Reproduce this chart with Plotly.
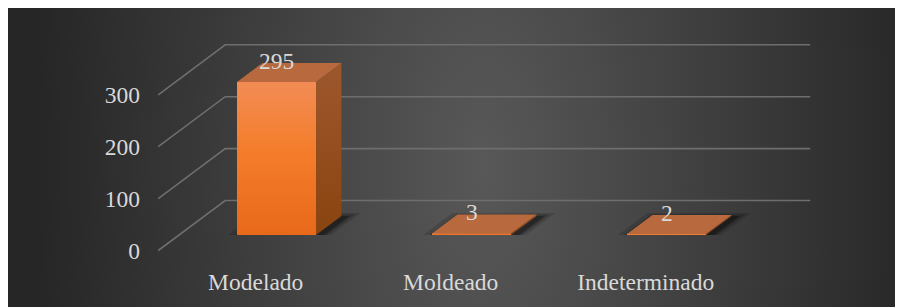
import base64
import plotly.graph_objects as go

# ---------------- data ----------------
categories = ["Modelado", "Moldeado", "Indeterminado"]
values = [295, 3, 2]
value_ticks = [0, 100, 200, 300]
value_tick_labels = ["0", "100", "200", "300"]

# ---------------- style / geometry (page pixels) ----------------
W, H = 903, 307          # window
ML, MT = 8, 8            # page body margin (white band)
PW, PH = W - ML, H - MT  # plot-area size
CAT_PX = 195.0        # px per category step
CAT0_PX = 276.5       # px x of the first category (bar front plane)
ZERO_PX = 235.0       # px y of value 0 on the bar front plane
VAL_PX = 0.519        # px per value unit
DEPTH_DX_PX = 67.0    # floor depth, horizontal px
DEPTH_DY_PX = 50.0    # floor depth, vertical px
BAR_F, BAR_B = 0.31, 0.69   # bar front / back depth (0 = front floor edge, 1 = back wall)
BAR_W = 0.405
FONT = "Liberation Serif, Times New Roman, serif"
FS = 23.5
TXT = "#d9d9d9"
GRID = "#6e6e6e"

DX = DEPTH_DX_PX / CAT_PX
DY = DEPTH_DY_PX / VAL_PX
n = len(categories)
idx = list(range(n))


def P(c, v, d):
    """3D (category, value, depth) -> bar-plane axis coordinates."""
    return c + (d - BAR_F) * DX, v + (d - BAR_F) * DY


x_range = [(ML - CAT0_PX) / CAT_PX, (W - CAT0_PX) / CAT_PX]
y_range = [-(H - ZERO_PX) / VAL_PX, (ZERO_PX - MT) / VAL_PX]
fx, fy = BAR_F * DX, BAR_F * DY
x2_range = [x_range[0] + fx, x_range[1] + fx]
y2_range = [y_range[0] + fy, y_range[1] + fy]

fig = go.Figure()

# back wall + left wall grid lines
gx, gy = [], []
for t in value_ticks:
    a = P(-0.5, t, 0)
    b = P(-0.5, t, 1)
    e = P(n - 0.5, t, 1)
    gx += [a[0], b[0], e[0], None]
    gy += [a[1], b[1], e[1], None]
fig.add_trace(go.Scatter(x=gx, y=gy, mode="lines", line=dict(color=GRID, width=1.6),
                         hoverinfo="skip", showlegend=False))


def poly(pts, **kw):
    xs = [p[0] for p in pts] + [pts[0][0]]
    ys = [p[1] for p in pts] + [pts[0][1]]
    fig.add_trace(go.Scatter(x=xs, y=ys, mode="lines", fill="toself", line=dict(width=0),
                             hoverinfo="skip", showlegend=False, **kw))


# soft shadows on the floor
for c, v in zip(idx, values):
    for ex_px, sh_px, ed, alpha in [(12, 3, 0.06, 0.14), (7, 4, 0.03, 0.2), (3, 5, 0.0, 0.3)]:
        ex, sh = ex_px / CAT_PX, sh_px / CAT_PX
        l, r = c - BAR_W / 2 - ex + sh, c + BAR_W / 2 + ex + sh
        poly([P(l, 0, BAR_F), P(r, 0, BAR_F), P(r, 0, BAR_B + ed), P(l, 0, BAR_B + ed)],
             fillcolor=f"rgba(0,0,0,{alpha})")

# front faces (real bars)
fig.add_trace(go.Bar(x=idx, y=values, width=BAR_W, marker=dict(color="#f07a2c", line=dict(width=0)),
                     hoverinfo="skip", showlegend=False))

for c, v in zip(idx, values):
    l, r = c - BAR_W / 2, c + BAR_W / 2
    # side face
    poly([P(r, 0, BAR_F), P(r, v, BAR_F), P(r, v, BAR_B), P(r, 0, BAR_B)],
         fillgradient=dict(type="vertical", colorscale=[[0, "#8a4410"], [1, "#9d572d"]]))
    # top face
    poly([P(l, v, BAR_F), P(r, v, BAR_F), P(r, v, BAR_B), P(l, v, BAR_B)], fillcolor="#b8693d")
    # front face shading over the bar
    poly([P(l, 0, BAR_F), P(r, 0, BAR_F), P(r, v, BAR_F), P(l, v, BAR_F)],
         fillgradient=dict(type="vertical",
                           colorscale=[[0, "#e8691a"], [0.55, "#f47d2b"], [1, "#f28c55"]]))

# anchor trace for the front-plane axes (invisible)
fig.add_trace(go.Scatter(x=idx, y=[0] * n, xaxis="x2", yaxis="y2", mode="markers",
                         marker=dict(opacity=0), hoverinfo="skip", showlegend=False))

# data labels
for c, v in zip(idx, values):
    fig.add_annotation(x=c, y=v, text=str(v), showarrow=False, yshift=21,
                       font=dict(family=FONT, size=FS, color=TXT))

# radial gradient background
cx, cy, rr = 0.53 * PW, 0.52 * PH, 0.5 * PW
svg = (f'<svg xmlns="http://www.w3.org/2000/svg" width="{PW}" height="{PH}" viewBox="0 0 {PW} {PH}" '
       f'preserveAspectRatio="none"><defs><radialGradient id="g" gradientUnits="userSpaceOnUse" '
       f'cx="{cx}" cy="{cy}" r="{rr}" gradientTransform="translate({cx} {cy}) scale(1 2) translate({-cx} {-cy})">'
       f'<stop offset="0" stop-color="#585858"/><stop offset="1" stop-color="#262626"/>'
       f'</radialGradient></defs><rect width="{PW}" height="{PH}" fill="url(#g)"/></svg>')
bg_src = "data:image/svg+xml;base64," + base64.b64encode(svg.encode()).decode()

fig.update_layout(
    width=PW, height=PH,
    margin=dict(l=0, r=0, t=0, b=0, pad=0),
    paper_bgcolor="#262626",
    plot_bgcolor="rgba(0,0,0,0)",
    hovermode=False,
    showlegend=False,
    bargap=0,
    images=[dict(source=bg_src, xref="paper", yref="paper", x=0, y=1, sizex=1, sizey=1,
                 xanchor="left", yanchor="top", sizing="stretch", layer="below")],
    xaxis=dict(range=x_range, visible=False, fixedrange=True),
    yaxis=dict(range=y_range, visible=False, fixedrange=True),
    xaxis2=dict(range=x2_range, overlaying="x", anchor="free", position=(H - 265) / PH,
                tickvals=idx, ticktext=categories, showgrid=False, zeroline=False, showline=False,
                ticks="", tickfont=dict(family=FONT, size=FS, color=TXT), fixedrange=True),
    yaxis2=dict(range=y2_range, overlaying="y", anchor="free", position=(140 - ML) / PW,
                tickvals=value_ticks, ticktext=value_tick_labels, showgrid=False, zeroline=False,
                showline=False, ticks="", tickfont=dict(family=FONT, size=FS, color=TXT),
                fixedrange=True),
)

fig.write_html(
    "out.html",
    post_script="document.documentElement.style.overflow='hidden';",
)
